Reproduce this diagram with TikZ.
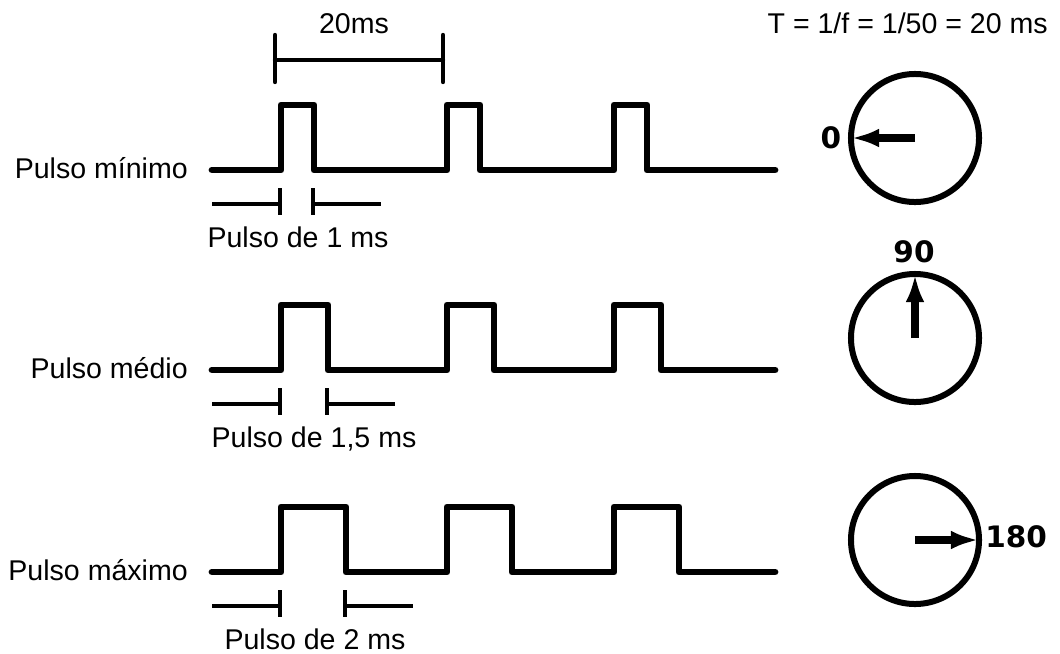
\documentclass[tikz,border=0pt]{standalone}
\usepackage{fontspec}
\setmainfont{Liberation Sans}
\newfontfamily\dialfont{DejaVu Sans}
\usetikzlibrary{arrows.meta}
\tikzstyle{txt} = [inner sep=0pt, font=\fontsize{20.3}{24}\selectfont]
\tikzstyle{deg} = [inner sep=0pt, font=\dialfont\bfseries\fontsize{21}{24}\selectfont]
\tikzstyle{wave} = [line width=0.17cm, line join=round, line cap=round]
\tikzstyle{measure} = [line width=0.085cm]
\tikzstyle{period} = [line width=0.11cm, line cap=round]
\tikzstyle{dial} = [circle, draw, line width=0.15cm, minimum size=3.2cm, inner sep=0pt]
\tikzstyle{needle} = [line width=0.22cm, shorten >=0.08cm,
                 -{Latex[length=0.7cm,width=0.47cm]}]

\begin{document}
\begin{tikzpicture}[x=0.025cm, y=-0.025cm]
\useasboundingbox (0,0) rectangle (1060,653);

% period on top
\node [txt, anchor=base] (per) at (354,33) {20ms};
\node [txt, anchor=base east] (formula) at (1048,33) {T = 1/f = 1/50 = 20 ms};
\coordinate (pa) at (275,60);
\coordinate (pb) at (443,60);
\draw [period] (pa) -- (pb);
\draw [period] (275,35) -- (275,82);
\draw [period] (443,35) -- (443,82);

% the three pulse trains
\foreach \y/\w/\kind/\dur/\tx in {170/33/mínimo/1/298, 370/47/médio/{1,5}/314, 572/65/máximo/2/315}{
	\node [txt, anchor=base east] (name\y) at (188,\y+8) {Pulso \kind};
	\draw [wave] (212,\y) -| (281,\y-65) -| (281+\w,\y) -| (447,\y-65) -| (447+\w,\y)
		-| (614,\y-65) -| (614+\w,\y) -- (775,\y);
	\draw [measure] (212,\y+34) -- (280,\y+34) (280,\y+18) -- (280,\y+45);
	\draw [measure] (280+\w,\y+18) -- (280+\w,\y+45) (280+\w,\y+34) -- (348+\w,\y+34);
	\node [txt, anchor=base] (dur\y) at (\tx,\y+77) {Pulso de \dur\ ms};
}

% servo dials
\node [dial] (dialmin) at (915,138) {};
\node [dial] (dialmid) at (915,338) {};
\node [dial] (dialmax) at (915,540) {};

\draw [needle] (dialmin.center) -- (dialmin.west);
\draw [needle] (dialmid.center) -- (dialmid.north);
\draw [needle] (dialmax.center) -- (dialmax.east);

\node [deg] (d0) at (831,138) {0};
\node [deg] (d90) at (914,252) {90};
\node [deg, anchor=west] (d180) at (985,537) {180};

\end{tikzpicture}
\end{document}
